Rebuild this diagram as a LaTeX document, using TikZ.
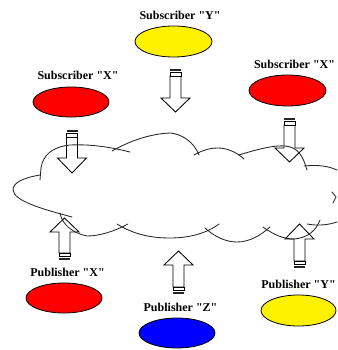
\documentclass[tikz,border=0pt]{standalone}
\usepackage{fontspec}
\newfontfamily\lblfont{Liberation Serif}
\usetikzlibrary{shapes.geometric}
\tikzset{
  party/.style={draw=black,line width=0.8pt,ellipse,inner sep=0pt},
  lbl/.style={font=\lblfont\bfseries\fontsize{12}{12}\selectfont,inner sep=0pt,anchor=center,text=black},
  cloudline/.style={draw=black!85,line width=0.85pt,line cap=round},
  flow/.style={draw=black,fill=white,line width=0.85pt,line join=miter},
  band/.style={draw=black,fill=white,line width=0.85pt},
  bar/.style={fill=black!85,draw=none}
}
% #1 x centre, #2 end of shaft, #3 base of head, #4 tip, #5 direction (+1 down, -1 up)
\newcommand{\flowarrow}[5]{%
  \draw[flow] (#1-5.5,#2+#5*7) -- (#1-5.5,#3) -- (#1-14.5,#3) -- (#1,#4) -- (#1+14.5,#3) -- (#1+5.5,#3) -- (#1+5.5,#2+#5*7) -- cycle;
  \draw[band] (#1-5.5,#2+#5*3.7) rectangle (#1+5.5,#2+#5*7);
  \fill[bar] (#1-5.5,#2) rectangle (#1+5.5,#2+#5*2.3);
}
\begin{document}
\begin{tikzpicture}[x=1pt,y=-1pt]
\useasboundingbox (0,0) rectangle (337,350);
% flow arrows
\flowarrow{72}{130}{158}{173}{1}
\flowarrow{175.5}{69}{98}{112}{1}
\flowarrow{289.5}{118}{148}{162}{1}
\flowarrow{64.5}{260}{232}{218}{-1}
\flowarrow{178.5}{294}{265}{251}{-1}
\flowarrow{299.5}{268}{239}{224}{-1}
% cloud
\draw[cloudline] (40,180) -- (41,168) .. controls (43,155) and (52,147) .. (70,145) .. controls (90,144) and (110,147) .. (130,152);
\draw[cloudline] (112,151) .. controls (128,142) and (148,134) .. (170,133) .. controls (182,134) and (194,142) .. (199,155);
\draw[cloudline] (194,155) .. controls (208,147) and (226,143) .. (244,159);
\draw[cloudline] (239,155) .. controls (258,149) and (275,145) .. (285,146) .. controls (298,147) and (303,156) .. (307,170);
\draw[cloudline] (304,166) .. controls (315,165) and (326,165) .. (337,170);
\draw[cloudline] (40,175) .. controls (22,178) and (13,183) .. (13,190) .. controls (14,201) and (42,209) .. (72,217);
\draw[cloudline] (60,213) .. controls (62,224) and (72,233) .. (87,236) .. controls (100,236) and (115,231) .. (128,224);
\draw[cloudline] (117,224) .. controls (133,234) and (150,238) .. (170,238) .. controls (190,238) and (207,233) .. (219,224);
\draw[cloudline] (205,228) .. controls (215,237) and (226,242) .. (237,242) .. controls (250,242) and (261,235) .. (270,227);
\draw[cloudline] (263,227) .. controls (274,235) and (284,239) .. (294,239) .. controls (307,238) and (316,231) .. (320,220);
\draw[cloudline] (307,224) .. controls (318,226) and (328,225) .. (337,222);
\draw[cloudline] (332,192) -- (336,197) -- (333,203);
% parties
\node[party,fill=yellow,minimum height=31pt,minimum width=77pt] (suby) at (173.5,41.5) {};
\node[party,fill=red,minimum height=30pt,minimum width=76pt] (subxl) at (71,102) {};
\node[party,fill=red,minimum height=31pt,minimum width=77pt] (subxr) at (287.5,90.5) {};
\node[party,fill=red,minimum height=30pt,minimum width=76pt] (pubx) at (64,298) {};
\node[party,fill=blue,minimum height=30pt,minimum width=76pt] (pubz) at (177,333) {};
\node[party,fill=yellow,minimum height=31pt,minimum width=75pt] (puby) at (298.5,310.5) {};
% labels
\node[lbl] (lsuby) at (180,15) {Subscriber "Y"};
\node[lbl] (lsubxl) at (78,75) {Subscriber "X"};
\node[lbl] (lsubxr) at (294.5,64) {Subscriber "X"};
\node[lbl] (lpubx) at (67.5,272) {Publisher "X"};
\node[lbl] (lpubz) at (180.5,307) {Publisher "Z"};
\node[lbl] (lpuby) at (298.5,284) {Publisher "Y"};
\end{tikzpicture}
\end{document}
